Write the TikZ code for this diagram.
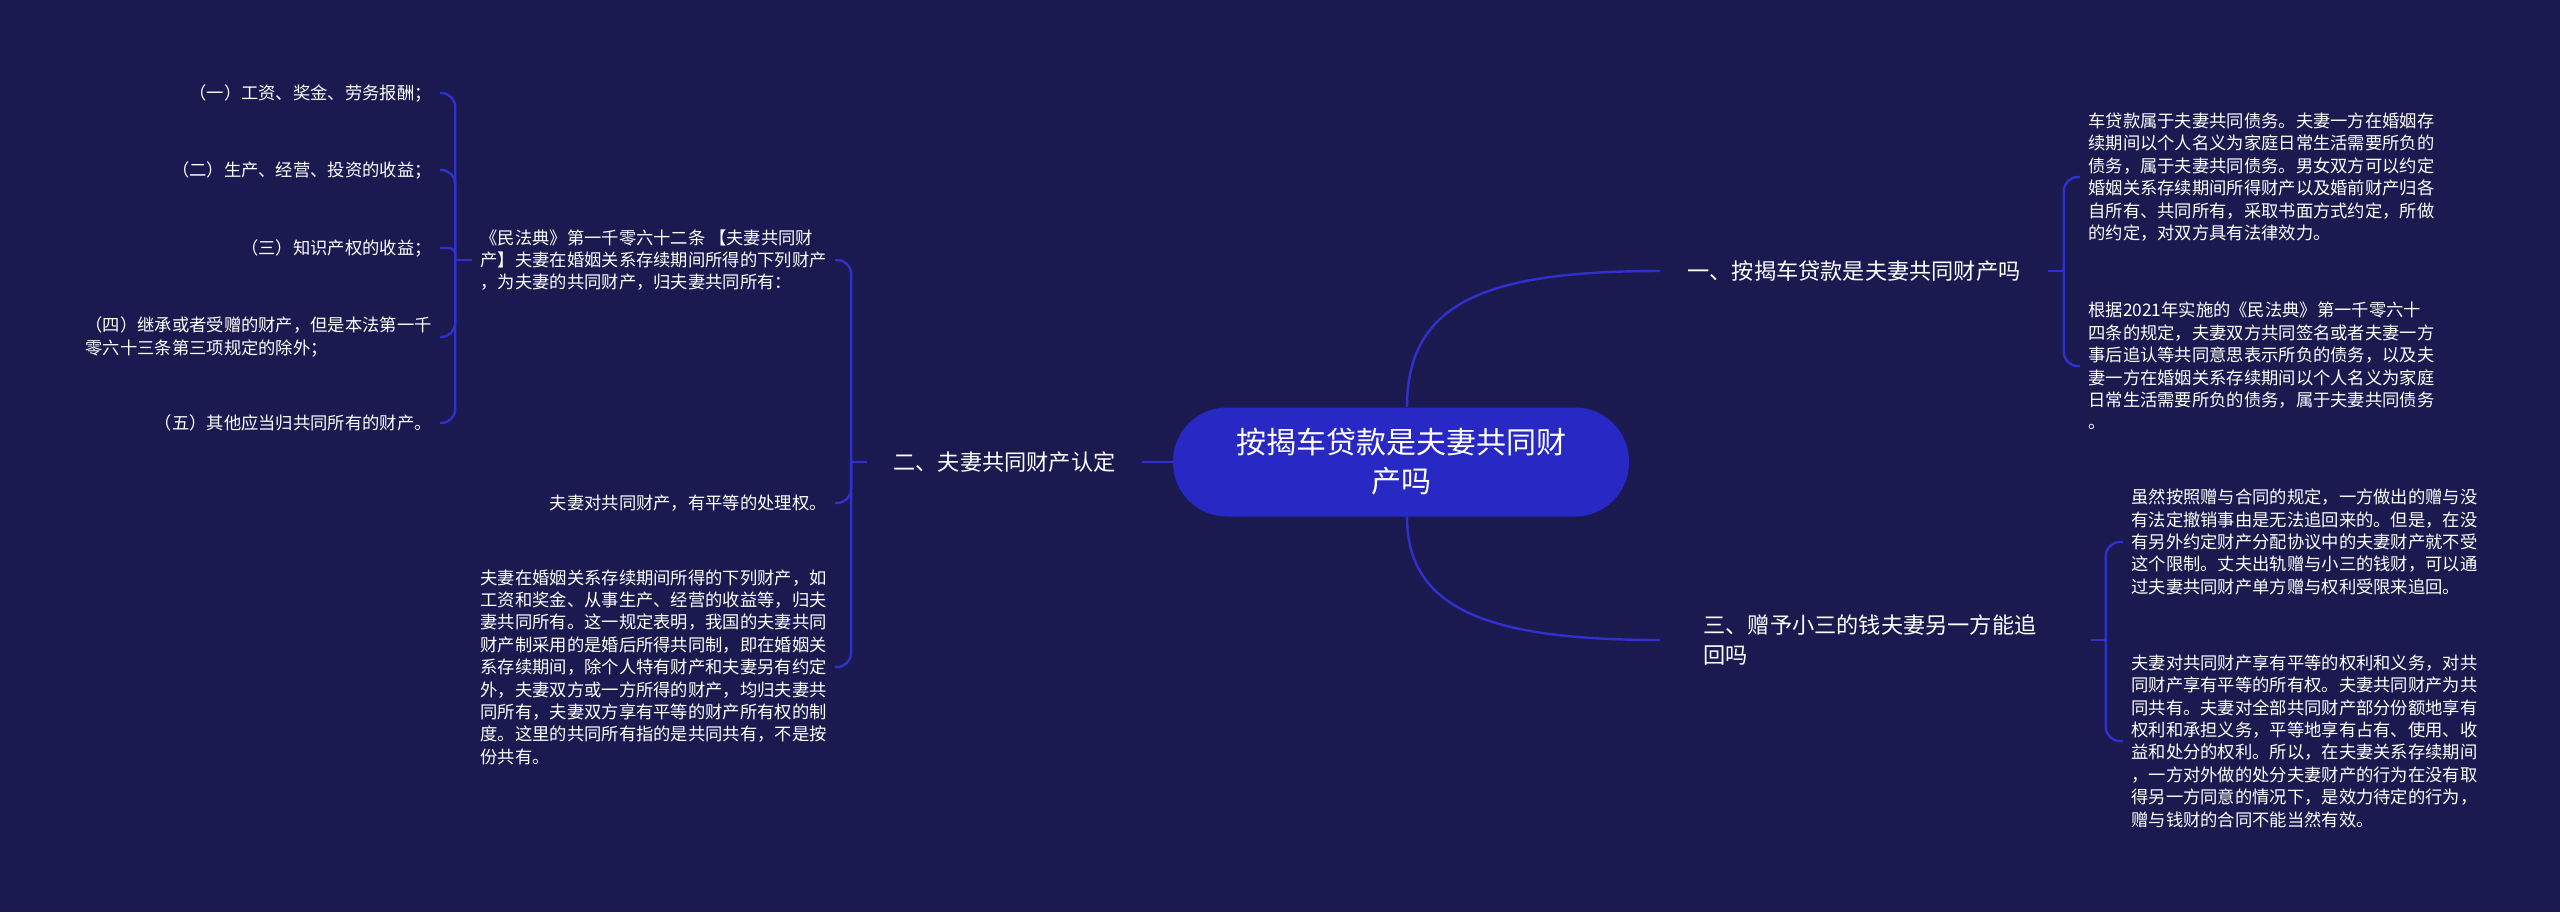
\documentclass[tikz,border=0pt]{standalone}
\usepackage{fontspec}
\setmainfont{Noto Sans CJK SC}
\definecolor{bgc}{HTML}{1B1A50}
\definecolor{nodec}{HTML}{2828C4}
\definecolor{linec}{HTML}{3030CC}
\begin{document}
\begin{tikzpicture}[x=0.5pt,y=-0.5pt,
  txt/.style={text=white, font=\fontsize{8.65}{11.2}\selectfont, inner xsep=4pt, inner ysep=0pt, align=left},
  branch/.style={text=white, font=\fontsize{11.1}{15}\selectfont, inner ysep=0pt},
  root/.style={fill=nodec, rounded corners=27pt, minimum width=228pt, minimum height=54.5pt, text=white, font=\fontsize{15}{19.5}\selectfont, align=center, inner sep=0pt},
  conn/.style={draw=linec, line width=1.2pt},
  brk/.style={conn, rounded corners=7pt}]
\fill[bgc] (0,0) rectangle (2560,912);
\useasboundingbox (0,0) rectangle (2560,912);

% root and branches
\node[root] (c) at (1401,462) {按揭车贷款是夫妻共同财\\产吗};
\node[branch, inner xsep=13.5pt, anchor=west] (b1) at (1660,271) {一、按揭车贷款是夫妻共同财产吗};
\node[branch, inner xsep=13pt] (b2) at (1004.5,462) {二、夫妻共同财产认定};
\node[branch, inner xsep=21.5pt, text width=172pt, align=left, anchor=west] (b3) at (1660,640) {三、赠予小三的钱夫妻另一方能追\\回吗};

% right children
\node[txt, anchor=west] (r1) at (2080,177) {车贷款属于夫妻共同债务。夫妻一方在婚姻存\\续期间以个人名义为家庭日常生活需要所负的\\债务，属于夫妻共同债务。男女双方可以约定\\婚姻关系存续期间所得财产以及婚前财产归各\\自所有、共同所有，采取书面方式约定，所做\\的约定，对双方具有法律效力。};
\node[txt, anchor=west] (r2) at (2080,366) {根据2021年实施的《民法典》第一千零六十\\四条的规定，夫妻双方共同签名或者夫妻一方\\事后追认等共同意思表示所负的债务，以及夫\\妻一方在婚姻关系存续期间以个人名义为家庭\\日常生活需要所负的债务，属于夫妻共同债务\\。};
\node[txt, anchor=west] (r3) at (2123,542) {虽然按照赠与合同的规定，一方做出的赠与没\\有法定撤销事由是无法追回来的。但是，在没\\有另外约定财产分配协议中的夫妻财产就不受\\这个限制。丈夫出轨赠与小三的钱财，可以通\\过夫妻共同财产单方赠与权利受限来追回。};
\node[txt, anchor=west] (r4) at (2123,741) {夫妻对共同财产享有平等的权利和义务，对共\\同财产享有平等的所有权。夫妻共同财产为共\\同共有。夫妻对全部共同财产部分份额地享有\\权利和承担义务，平等地享有占有、使用、收\\益和处分的权利。所以，在夫妻关系存续期间\\，一方对外做的处分夫妻财产的行为在没有取\\得另一方同意的情况下，是效力待定的行为，\\赠与钱财的合同不能当然有效。};

% left children
\node[txt, anchor=east] (la) at (835,260) {《民法典》第一千零六十二条 【夫妻共同财\\产】夫妻在婚姻关系存续期间所得的下列财产\\，为夫妻的共同财产，归夫妻共同所有：};
\node[txt, align=right, anchor=east] (lb) at (835,503) {夫妻对共同财产，有平等的处理权。};
\node[txt, anchor=east] (lc) at (835,667) {夫妻在婚姻关系存续期间所得的下列财产，如\\工资和奖金、从事生产、经营的收益等，归夫\\妻共同所有。这一规定表明，我国的夫妻共同\\财产制采用的是婚后所得共同制，即在婚姻关\\系存续期间，除个人特有财产和夫妻另有约定\\外，夫妻双方或一方所得的财产，均归夫妻共\\同所有，夫妻双方享有平等的财产所有权的制\\度。这里的共同所有指的是共同共有，不是按\\份共有。};

% items
\node[txt, align=right, anchor=east] (i1) at (440,93) {（一）工资、奖金、劳务报酬；};
\node[txt, align=right, anchor=east] (i2) at (440,170) {（二）生产、经营、投资的收益；};
\node[txt, align=right, anchor=east] (i3) at (440,248) {（三）知识产权的收益；};
\node[txt, anchor=east] (i4) at (440,337) {（四）继承或者受赠的财产，但是本法第一千\\零六十三条第三项规定的除外；};
\node[txt, align=right, anchor=east] (i5) at (440,423) {（五）其他应当归共同所有的财产。};

% connectors
\draw[conn] ([xshift=3pt]c.north) .. controls (1407,300) and (1490,271) .. (b1.west);
\draw[conn] ([xshift=3pt]c.south) .. controls (1407,610) and (1490,640) .. (b3.west);
\draw[conn] (c.west) -- (b2.east);

\draw[conn] (b1.east) -- ++(16,0) coordinate (j1);
\draw[brk] (j1) |- (r1.west);
\draw[brk] (j1) |- (r2.west);

\draw[conn] (b3.east) -- ++(15,0) coordinate (j3);
\draw[brk] (j3) |- (r3.west);
\draw[brk] (j3) |- (r4.west);

\draw[conn] (b2.west) -- ++(-16,0) coordinate (j2);
\draw[brk] (j2) |- (la.east);
\draw[brk] (j2) |- (lb.east);
\draw[brk] (j2) |- (lc.east);

\draw[conn] (la.west) -- ++(-17,0) coordinate (ja);
\draw[brk] (ja) |- (i1.east);
\draw[brk] (ja) |- (i2.east);
\draw[conn, rounded corners=3pt] (ja) |- (i3.east);
\draw[brk] (ja) |- (i4.east);
\draw[brk] (ja) |- (i5.east);
\end{tikzpicture}
\end{document}
